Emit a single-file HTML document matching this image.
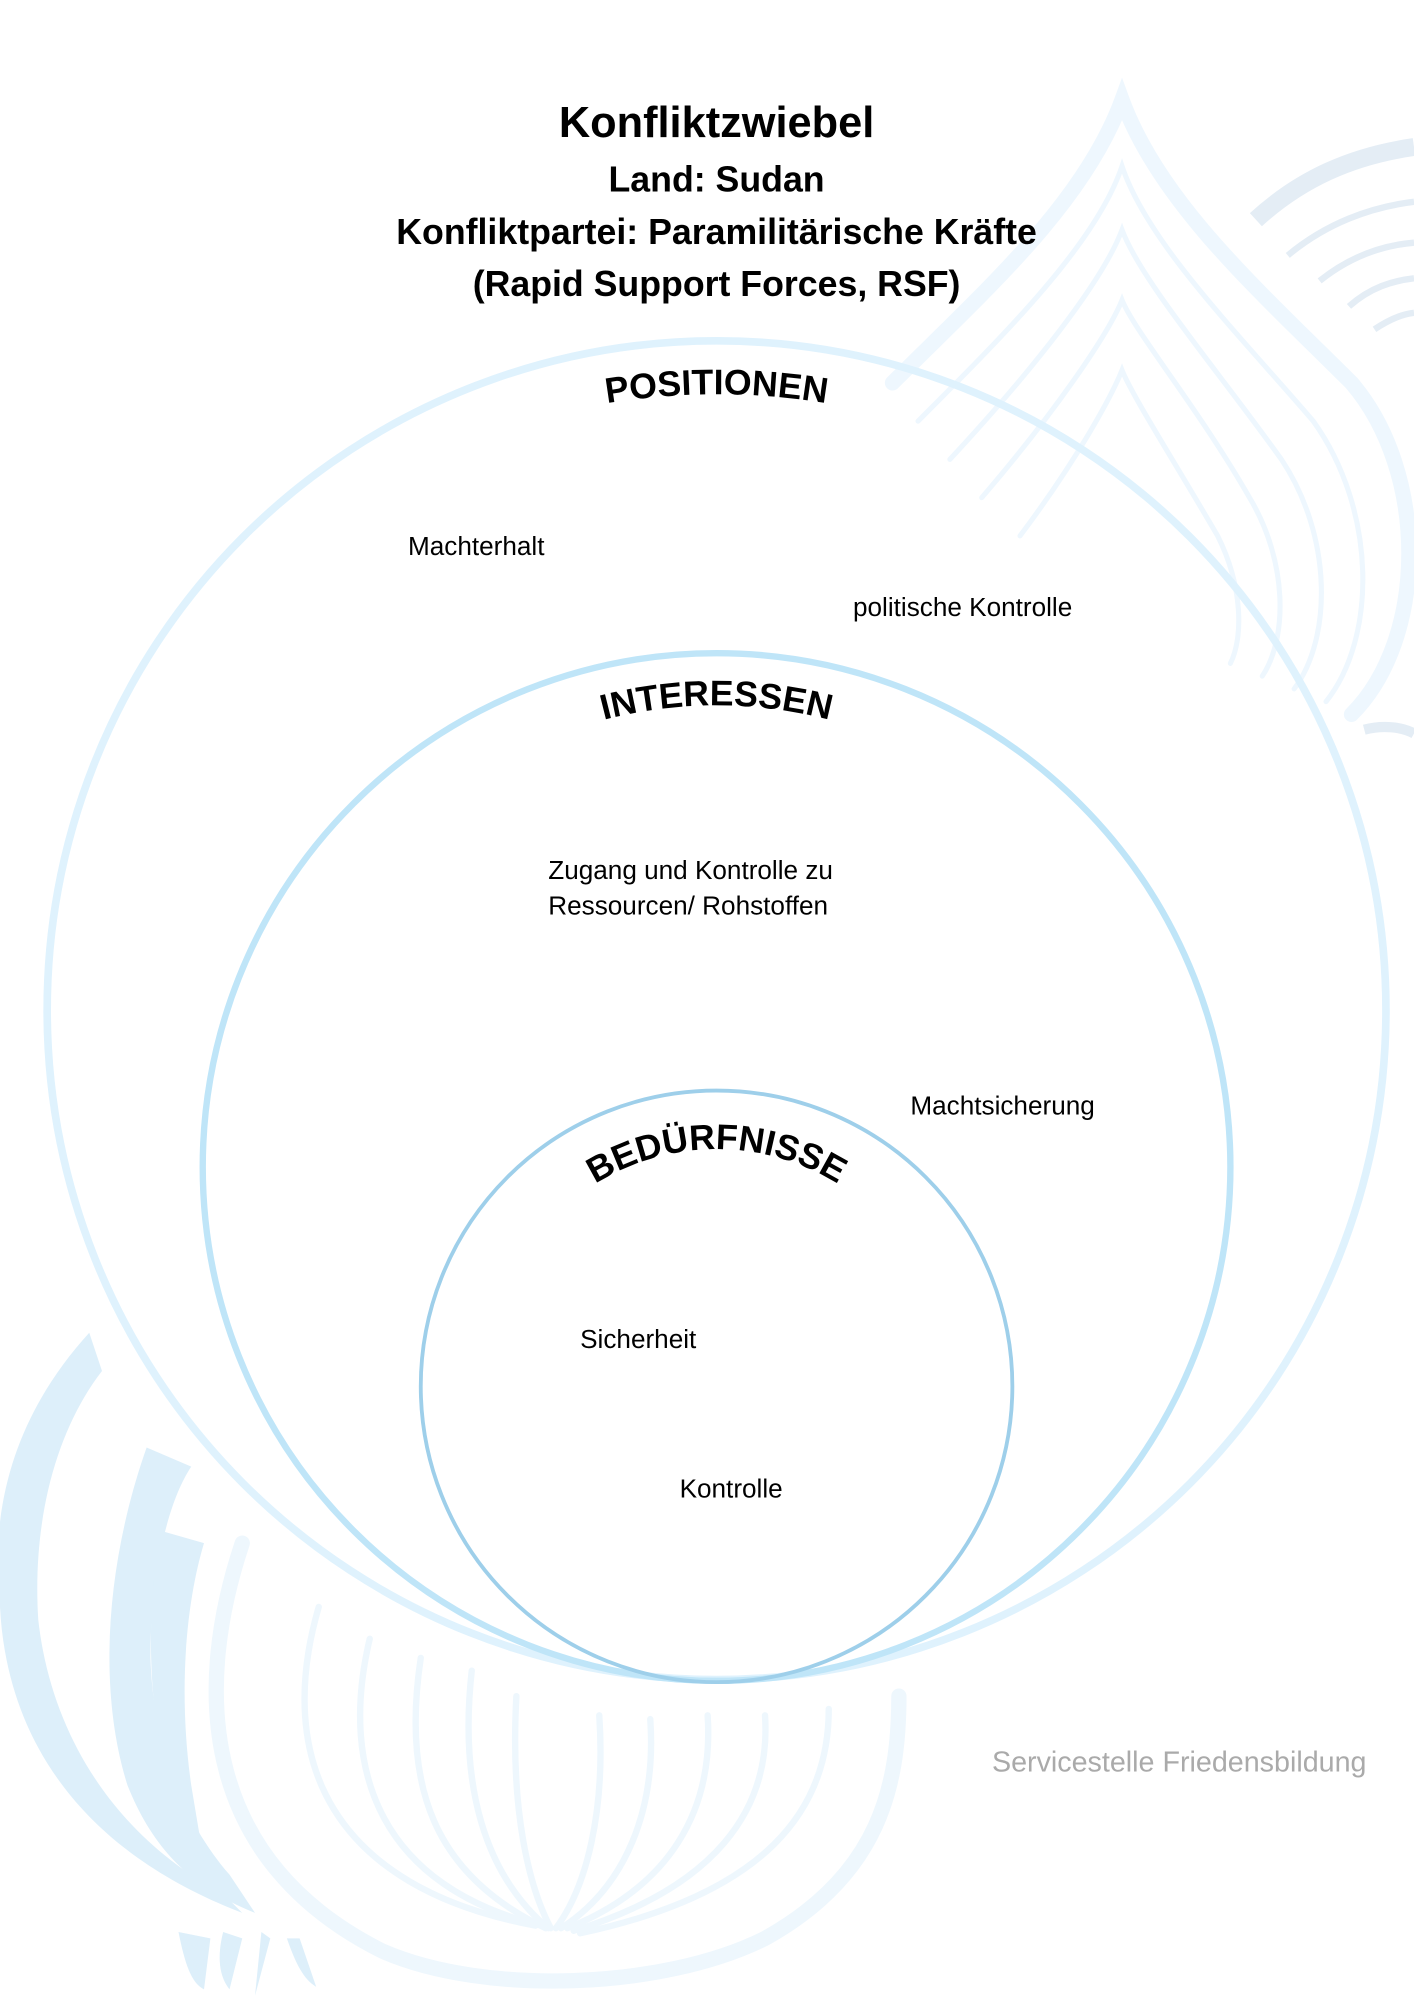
<!DOCTYPE html>
<html><head><meta charset="utf-8"><style>
html,body{margin:0;padding:0;background:#fff;}
svg{display:block;}
text{font-family:"Liberation Sans",sans-serif;}
</style></head><body>
<svg width="1414" height="2000" viewBox="0 0 1109 1568" xmlns="http://www.w3.org/2000/svg">
<g fill="none" stroke="#eef7fe" stroke-linecap="round">
<path d="M700 300 C770 230 850 160 880 78 C910 160 990 230 1060 300 C1120 370 1120 500 1060 560" stroke-width="12"/>
<path d="M720 330 C790 260 860 190 880 130 C900 190 970 260 1030 330 C1080 400 1080 500 1040 550" stroke-width="4"/>
<path d="M745 360 C810 290 865 220 880 180 C895 220 955 290 1005 360 C1045 420 1045 500 1015 540" stroke-width="4"/>
<path d="M770 390 C830 320 870 260 880 235 C890 260 940 320 980 390 C1010 440 1010 500 990 530" stroke-width="4"/>
<path d="M800 420 C845 360 872 310 880 290 C888 310 920 360 955 420 C975 460 975 500 965 520" stroke-width="4"/>
</g>
<g fill="none" stroke="#e4edf5" stroke-linecap="butt">
<path d="M985 172 C1020 140 1060 122 1109 115" stroke-width="14"/>
<path d="M1010 200 C1040 175 1075 162 1109 158" stroke-width="5"/>
<path d="M1035 220 C1060 200 1085 192 1109 190" stroke-width="5"/>
<path d="M1058 240 C1075 225 1092 220 1109 218" stroke-width="5"/>
<path d="M1078 258 C1090 250 1100 246 1109 245" stroke-width="5"/>
<path d="M1070 572 C1085 568 1100 570 1109 575" stroke-width="8"/>
</g>
<g fill="#ddeffa">
<path d="M70 1045 C20 1100 -10 1170 0 1260 C5 1360 60 1450 190 1500 L175 1485 C90 1440 40 1360 30 1270 C25 1190 45 1120 80 1075 Z"/>
<path d="M115 1135 C85 1220 75 1320 100 1400 C120 1450 150 1480 200 1500 L180 1470 C145 1430 120 1370 118 1300 C118 1240 130 1180 150 1150 Z"/>
<path d="M125 1200 C110 1300 120 1400 160 1460 L150 1400 C140 1330 145 1260 160 1210 Z"/>
<path d="M140 1515 C145 1540 150 1555 160 1560 L165 1520 Z"/>
<path d="M175 1515 C170 1535 172 1550 180 1560 L190 1520 Z"/>
<path d="M205 1515 L200 1565 L212 1520 Z"/>
<path d="M225 1520 C232 1540 238 1552 248 1558 L235 1520 Z"/>
</g>
<g fill="none" stroke="#eef7fd" stroke-linecap="round">
<path d="M190 1210 C150 1330 160 1460 300 1530 C380 1565 520 1560 600 1520 C690 1470 705 1400 705 1330" stroke-width="12"/>
<path d="M250 1260 C215 1380 260 1480 420 1510" stroke-width="5"/>
<path d="M290 1285 C265 1390 300 1480 425 1510" stroke-width="5"/>
<path d="M330 1300 C315 1400 340 1470 428 1512" stroke-width="5"/>
<path d="M370 1310 C360 1400 380 1470 430 1512" stroke-width="5"/>
<path d="M405 1330 C400 1420 415 1480 432 1512" stroke-width="5"/>
<path d="M470 1345 C475 1420 460 1480 436 1512" stroke-width="5"/>
<path d="M510 1348 C515 1420 490 1480 440 1512" stroke-width="5"/>
<path d="M555 1345 C560 1420 525 1480 445 1512" stroke-width="5"/>
<path d="M600 1345 C605 1420 560 1480 450 1514" stroke-width="5"/>
<path d="M650 1340 C650 1420 600 1485 455 1516" stroke-width="5"/>
</g>
<circle cx="562" cy="792" r="525" fill="none" stroke="#dff2fd" stroke-width="6"/>
<circle cx="562" cy="915" r="403" fill="none" stroke="#bfe5f8" stroke-width="5"/>
<circle cx="562" cy="1087" r="232" fill="none" stroke="#9ecfea" stroke-width="3"/>
<defs>
<path id="p1" d="M262 402 A530 530 0 0 1 862 402"/>
<path id="p2" d="M312 658 A350 350 0 0 1 812 658"/>
<path id="p3" d="M382 1081 A180 180 0 0 1 742 1081"/>
</defs>
<g font-weight="bold" font-size="28" fill="#000">
<text><textPath href="#p1" startOffset="50%" text-anchor="middle">POSITIONEN</textPath></text>
<text><textPath href="#p2" startOffset="50%" text-anchor="middle">INTERESSEN</textPath></text>
<text><textPath href="#p3" startOffset="50%" text-anchor="middle">BEDÜRFNISSE</textPath></text>
</g>
<g text-anchor="middle" font-weight="bold" fill="#000">
<text x="562" y="107" font-size="34">Konfliktzwiebel</text>
<text x="562" y="150" font-size="28">Land: Sudan</text>
<text x="562" y="191" font-size="28">Konfliktpartei: Paramilitärische Kräfte</text>
<text x="562" y="232" font-size="28">(Rapid Support Forces, RSF)</text>
</g>
<g font-size="20.5" fill="#000">
<text x="320" y="435">Machterhalt</text>
<text x="669" y="483">politische Kontrolle</text>
<text x="430" y="689">Zugang und Kontrolle zu</text>
<text x="430" y="717">Ressourcen/ Rohstoffen</text>
<text x="714" y="874">Machtsicherung</text>
<text x="455" y="1057">Sicherheit</text>
<text x="533" y="1174">Kontrolle</text>
</g>
<text x="778" y="1389" font-size="22.5" fill="#aaaaaa">Servicestelle Friedensbildung</text>
</svg>
</body></html>
